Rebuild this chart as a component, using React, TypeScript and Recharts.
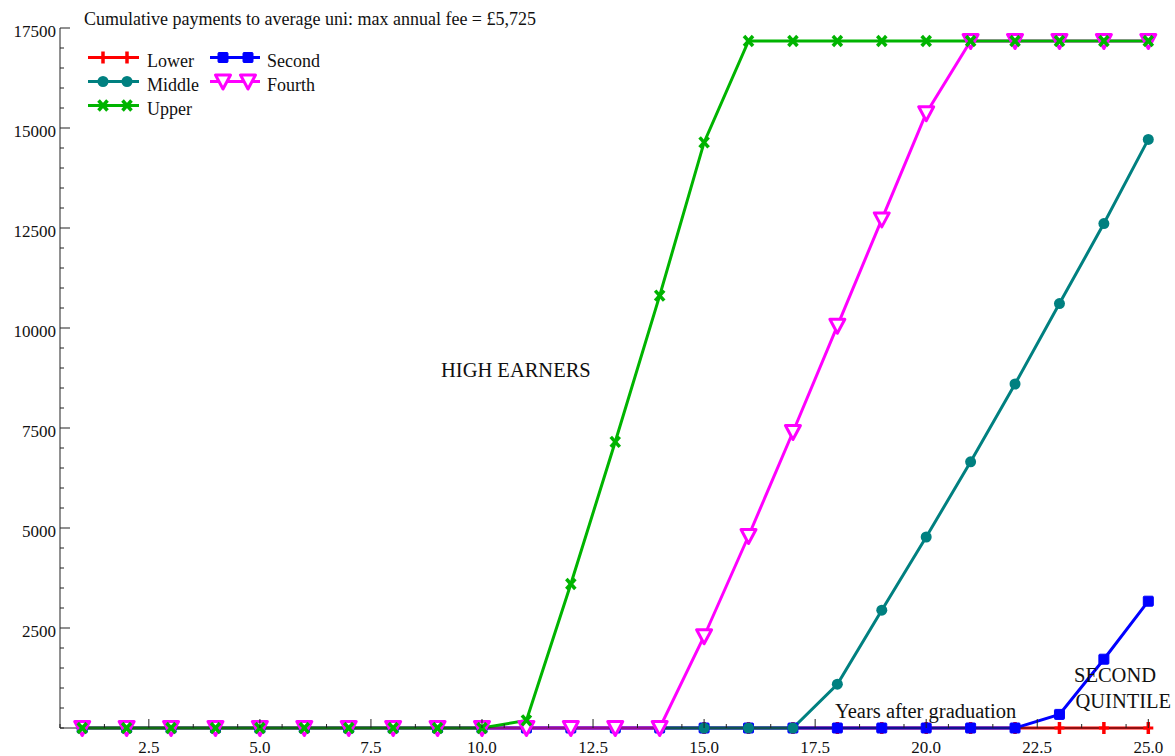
import React from 'react';
import { LineChart, Line, XAxis, YAxis, Legend } from 'recharts';

const years = [1, 2, 3, 4, 5, 6, 7, 8, 9, 10, 11, 12, 13, 14, 15, 16, 17, 18, 19, 20, 21, 22, 23, 24, 25];
const lower = [0, 0, 0, 0, 0, 0, 0, 0, 0, 0, 0, 0, 0, 0, 0, 0, 0, 0, 0, 0, 0, 0, 0, 0, 0];
const second = [0, 0, 0, 0, 0, 0, 0, 0, 0, 0, 0, 0, 0, 0, 0, 0, 0, 0, 0, 0, 0, 0, 340, 1720, 3170];
const middle = [0, 0, 0, 0, 0, 0, 0, 0, 0, 0, 0, 0, 0, 0, 0, 0, 0, 1095, 2945, 4775, 6655, 8600, 10610, 12610, 14715];
const fourth = [0, 0, 0, 0, 0, 0, 0, 0, 0, 0, 0, 0, 0, 0, 2294, 4800, 7400, 10055, 12715, 15370, 17175, 17175, 17175, 17175, 17175];
const upper = [0, 0, 0, 0, 0, 0, 0, 0, 0, 0, 190, 3600, 7155, 10808, 14640, 17175, 17175, 17175, 17175, 17175, 17175, 17175, 17175, 17175, 17175];

const xTicks = [0.5, 1.5, 2.5, 3.5, 4.5, 5, 5.5, 6.5, 7.5, 8.5, 9.5, 10, 10.5, 11.5, 12.5, 13.5, 14.5, 15, 15.5, 16.5, 17.5, 18.5, 19.5, 20, 20.5, 21.5, 22.5, 23.5, 24.5, 25];
const xMajor = [2.5, 5, 7.5, 10, 12.5, 15, 17.5, 20, 22.5, 25];
const yTicks = [0, 500, 1000, 1500, 2000, 2500, 3000, 3500, 4000, 4500, 5000, 5500, 6000, 6500, 7000, 7500, 8000, 8500, 9000, 9500, 10000, 10500, 11000, 11500, 12000, 12500, 13000, 13500, 14000, 14500, 15000, 15500, 16000, 16500, 17000, 17500];
const yMajor = [2500, 5000, 7500, 10000, 12500, 15000, 17500];

const TITLE = 'Cumulative payments to average uni: max annual fee = £5,725';

const C = {
  lower: '#ff0000',
  second: '#0000ff',
  middle: '#008080',
  fourth: '#ff00ff',
  upper: '#00b400',
};

const data = years.map((y, i) => ({
  year: y,
  lower: lower[i],
  second: second[i],
  middle: middle[i],
  fourth: fourth[i],
  upper: upper[i],
}));

const FONT = '"Liberation Serif", "Times New Roman", serif';
const AX = '#222';

const PlusMark = ({ cx, cy, color }: any) => (
  <g>
    <line x1={cx} x2={cx} y1={cy - 6} y2={cy + 6} stroke={color} strokeWidth={3.5} />
    <line x1={cx - 5} x2={cx + 5} y1={cy} y2={cy} stroke={color} strokeWidth={3} />
  </g>
);
const SquareMark = ({ cx, cy, color }: any) => (
  <rect x={cx - 5} y={cy - 5} width={10} height={10} rx={1} fill={color} stroke={color} strokeWidth={1} />
);
const CircleMark = ({ cx, cy, color }: any) => <circle cx={cx} cy={cy} r={5.5} fill={color} />;
const TriMark = ({ cx, cy, color }: any) => (
  <polygon
    points={`${cx - 7.5},${cy - 6.5} ${cx + 7.5},${cy - 6.5} ${cx},${cy + 7.5}`}
    fill="#fff"
    stroke={color}
    strokeWidth={3}
    strokeLinejoin="round"
  />
);
const XMark = ({ cx, cy, color }: any) => (
  <g>
    <line x1={cx - 4.5} x2={cx + 4.5} y1={cy - 5} y2={cy + 5} stroke={color} strokeWidth={3.5} />
    <line x1={cx - 4.5} x2={cx + 4.5} y1={cy + 5} y2={cy - 5} stroke={color} strokeWidth={3.5} />
  </g>
);

const mkDot = (Comp: any, color: string) => (p: any) => {
  if (p.cx == null || p.cy == null) return <g key={p.index} />;
  return <Comp key={p.index} cx={p.cx} cy={p.cy} color={color} />;
};

const XTick = (props: any) => {
  const { x, y, payload } = props;
  const v = payload.value;
  const major = xMajor.includes(v);
  return (
    <g>
      <line x1={x} x2={x} y1={y} y2={y - (major ? 9 : 4)} stroke={AX} strokeWidth={1} />
      {major && (
        <text x={x} y={y + 25} textAnchor="middle" fontSize={17} fontFamily={FONT} fill="#111">
          {v.toFixed(1)}
        </text>
      )}
    </g>
  );
};

const YTick = (props: any) => {
  const { x, y, payload } = props;
  const v = payload.value;
  const major = yMajor.includes(v);
  return (
    <g>
      <line x1={x} x2={x + (major ? 10 : 4)} y1={y} y2={y} stroke={AX} strokeWidth={1} />
      {major && (
        <text x={x - 4} y={y + 9} textAnchor="end" fontSize={17} fontFamily={FONT} fill="#111">
          {v}
        </text>
      )}
    </g>
  );
};

const legendItems = [
  { name: 'Lower', color: C.lower, Mark: PlusMark, x: 88, y: 57.5, w: 51, m1: 15, m2: 39, lx: 147 },
  { name: 'Middle', color: C.middle, Mark: CircleMark, x: 88, y: 81.5, w: 51, m1: 15, m2: 39, lx: 147 },
  { name: 'Upper', color: C.upper, Mark: XMark, x: 88, y: 105.5, w: 51, m1: 15, m2: 39, lx: 147 },
  { name: 'Second', color: C.second, Mark: SquareMark, x: 210, y: 57.5, w: 50, m1: 13, m2: 38, lx: 267 },
  { name: 'Fourth', color: C.fourth, Mark: TriMark, x: 210, y: 81.5, w: 50, m1: 13, m2: 38, lx: 267 },
];

const LegendContent = () => (
  <svg width={320} height={130} style={{ display: 'block' }}>
    {legendItems.map((it) => (
      <g key={it.name}>
        <line x1={it.x} x2={it.x + it.w} y1={it.y} y2={it.y} stroke={it.color} strokeWidth={3} />
        <it.Mark cx={it.x + it.m1} cy={it.y} color={it.color} />
        <it.Mark cx={it.x + it.m2} cy={it.y} color={it.color} />
        <text x={it.lx} y={it.y + 9.3} fontSize={18} fontFamily={FONT} fill="#111">
          {it.name}
        </text>
      </g>
    ))}
  </svg>
);

export default function App() {
  return (
    <div style={{ position: 'absolute', left: 0, top: 0, width: 1175, height: 756, background: '#fff', fontFamily: FONT }}>
      <LineChart width={1175} height={756} data={data} margin={{ top: 28, right: 26.7, bottom: 0, left: 0 }}>
        <XAxis
          dataKey="year"
          type="number"
          domain={[0.5, 25]}
          ticks={xTicks}
          interval={0}
          height={28}
          tickSize={0}
          tickMargin={0}
          tickLine={false}
          axisLine={{ stroke: AX, strokeWidth: 1 }}
          tick={<XTick />}
        />
        <YAxis
          type="number"
          domain={[0, 17500]}
          ticks={yTicks}
          interval={0}
          width={60}
          tickSize={0}
          tickMargin={0}
          tickLine={false}
          axisLine={{ stroke: AX, strokeWidth: 1 }}
          tick={<YTick />}
        />
        <Legend
          layout="vertical"
          align="center"
          verticalAlign="middle"
          wrapperStyle={{ position: 'absolute', left: 0, top: 0, width: 320, height: 130 }}
          content={() => <LegendContent />}
        />
        <Line dataKey="lower" name="Lower" stroke={C.lower} strokeWidth={3} isAnimationActive={false} dot={mkDot(PlusMark, C.lower)} activeDot={false} />
        <Line dataKey="second" name="Second" stroke={C.second} strokeWidth={3} isAnimationActive={false} dot={mkDot(SquareMark, C.second)} activeDot={false} />
        <Line dataKey="middle" name="Middle" stroke={C.middle} strokeWidth={3} isAnimationActive={false} dot={mkDot(CircleMark, C.middle)} activeDot={false} />
        <Line dataKey="fourth" name="Fourth" stroke={C.fourth} strokeWidth={3} isAnimationActive={false} dot={mkDot(TriMark, C.fourth)} activeDot={false} />
        <Line dataKey="upper" name="Upper" stroke={C.upper} strokeWidth={3} isAnimationActive={false} dot={mkDot(XMark, C.upper)} activeDot={false} />
      </LineChart>
      <svg width={1175} height={756} style={{ position: 'absolute', left: 0, top: 0, pointerEvents: 'none' }}>
        <text x={84} y={25} fontSize={18} fontFamily={FONT} fill="#111">{TITLE}</text>
        <text x={441} y={377} fontSize={20.5} fontFamily={FONT} fill="#111">HIGH EARNERS</text>
        <text x={835} y={718} fontSize={20.5} fontFamily={FONT} fill="#111">Years after graduation</text>
        <text x={1074} y={682} fontSize={20.5} fontFamily={FONT} fill="#111">SECOND</text>
        <text x={1075.5} y={708} fontSize={20.5} fontFamily={FONT} fill="#111">QUINTILE</text>
      </svg>
    </div>
  );
}
